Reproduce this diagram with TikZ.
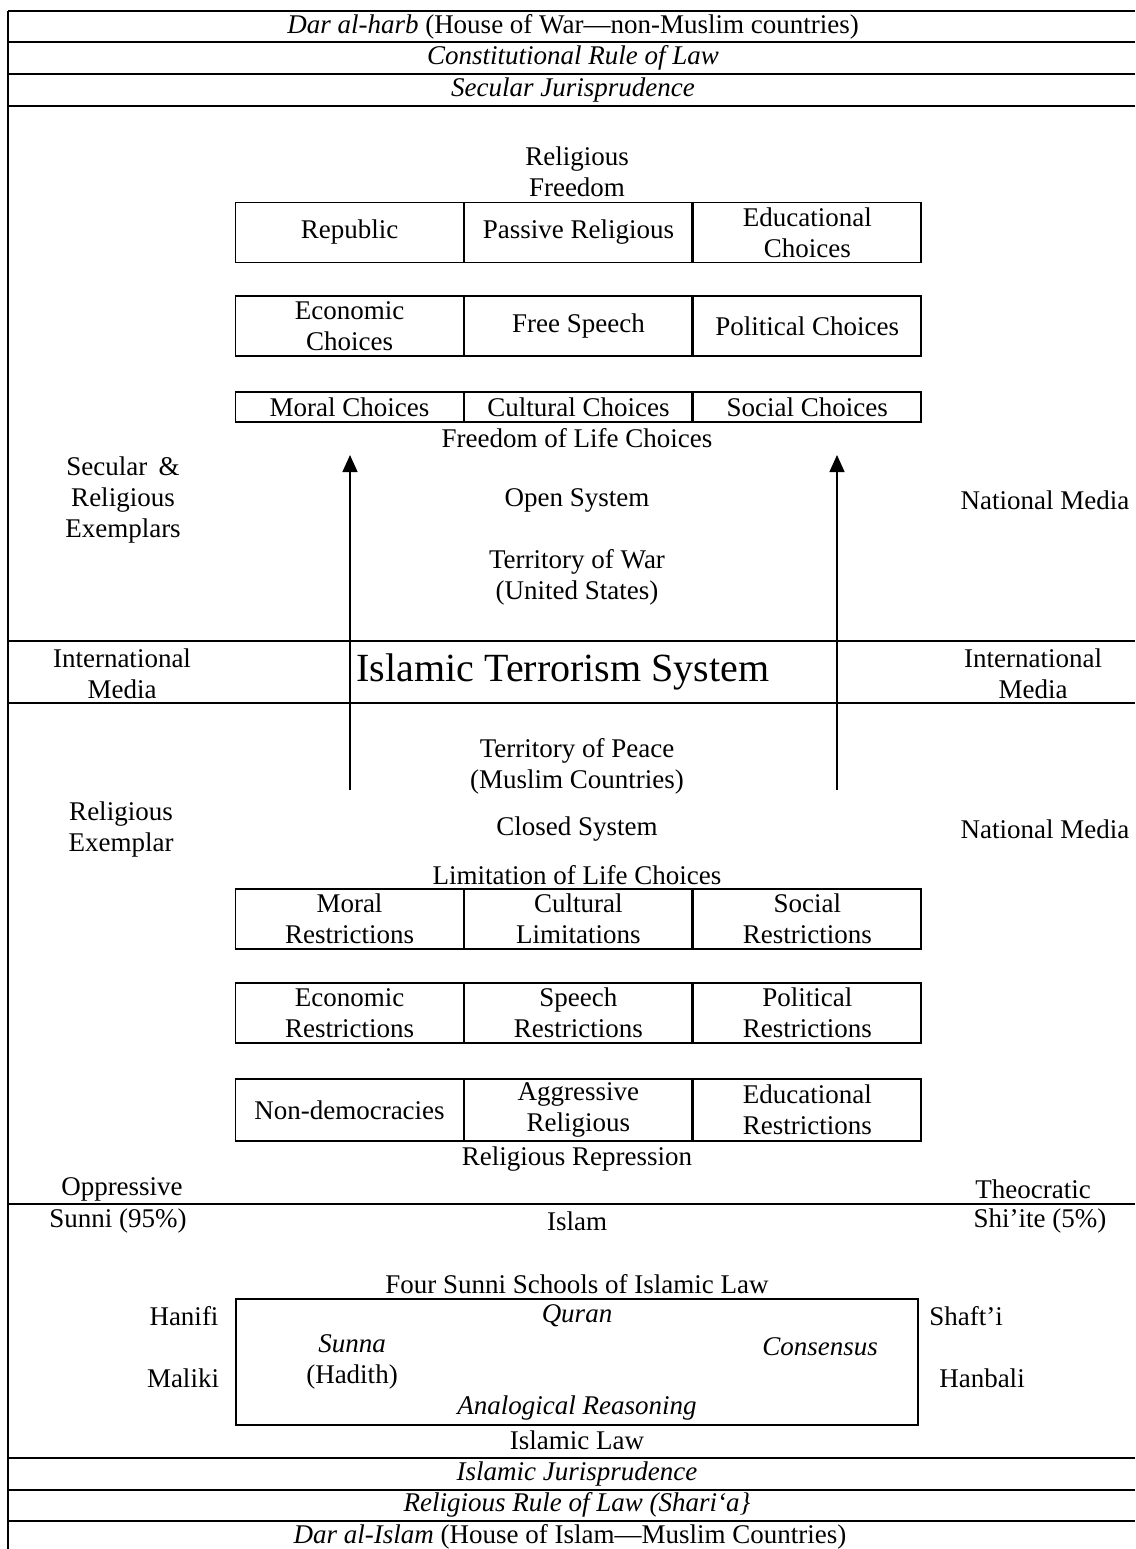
\documentclass[tikz,border=0pt]{standalone}
\usepackage{fontspec}
\setmainfont{Liberation Serif}
\usepackage{tikz}
\usetikzlibrary{positioning}
\usetikzlibrary{arrows.meta}

\newcommand{\txtsize}{\fontsize{27}{31}\selectfont}
\tikzset{
  rule/.style={line width=1.7pt},
  frame/.style={line width=1.5pt},
  cell/.style={draw,line width=1.4pt,minimum width=227.5pt,minimum height=60pt,
    inner sep=0pt,align=center,font=\txtsize},
  lbl/.style={align=center,inner sep=0pt,font=\txtsize},
  uparrow/.style={line width=1.3pt,-{Triangle[length=17pt,width=15pt]}}
}

\begin{document}
\begin{tikzpicture}[x=1pt,y=-1pt]
\useasboundingbox (0,0) rectangle (1135,1549);

% frame and bands
\draw[frame] (8,11) -- (8,1549);
\foreach \yy in {11,42,74,106,641,703,1204,1458,1490,1521}
  \draw[rule] (8,\yy) -- (1135,\yy);

% top bands
\node[lbl] (harb) at (573,27) {\textit{Dar al-harb} (House of War—non-Muslim countries)};
\node[lbl] (crol) at (573,58) {\textit{Constitutional Rule of Law}};
\node[lbl] (secj) at (573,90) {\textit{Secular Jurisprudence}};

% open system
\node[lbl] (relfree) at (577,172) {Religious\\Freedom};
\node[cell] (repub) at (349.5,232.5) {Republic};
\node[cell,right=0pt of repub] (passive) {Passive Religious};
\node[cell,right=0pt of passive] (educ) {Educational\\Choices};
\node[cell] (econ) at (349.5,326) {Economic\\Choices};
\node[cell,right=0pt of econ] (speech) {Free Speech};
\node[cell,right=0pt of speech] (polit) {Political Choices};
\node[cell,minimum height=30pt] (moral) at (349.5,407) {Moral Choices};
\node[cell,minimum height=30pt,right=0pt of moral] (cult) {Cultural Choices};
\node[cell,minimum height=30pt,right=0pt of cult] (social) {Social Choices};
\node[lbl] (lifefree) at (577,438) {Freedom of Life Choices};

\node[lbl] (secex) at (123,500) {Secular \,\&\\Religious\\Exemplars};
\node[lbl] (opensys) at (577,500) {Open System};
\node[lbl] (natmedA) at (1045,500) {National Media};
\node[lbl] (war) at (577,577) {Territory of War\\(United States)};

% central band
\node[lbl] (intmedL) at (122,674) {International\\Media};
\node[lbl,font=\fontsize{40}{44}\selectfont] (terror) at (563,672) {Islamic Terrorism System};
\node[lbl] (intmedR) at (1033,674) {International\\Media};

% closed system
\node[lbl] (peace) at (577,766) {Territory of Peace\\(Muslim Countries)};
\node[lbl] (relex) at (121,829) {Religious\\Exemplar};
\node[lbl] (closedsys) at (577,829) {Closed System};
\node[lbl] (natmedB) at (1045,829) {National Media};

\coordinate (startL) at (350,790);
\coordinate (startR) at (837,790);
\coordinate (endL) at (350,455);
\coordinate (endR) at (837,455);
\draw[uparrow] (startL) -- (endL);
\draw[uparrow] (startR) -- (endR);

\node[lbl] (limit) at (577,875) {Limitation of Life Choices};
\node[cell] (moralr) at (349.5,919) {Moral\\Restrictions};
\node[cell,right=0pt of moralr] (cultl) {Cultural\\Limitations};
\node[cell,right=0pt of cultl] (socialr) {Social\\Restrictions};
\node[cell] (econr) at (349.5,1013) {Economic\\Restrictions};
\node[cell,right=0pt of econr] (speechr) {Speech\\Restrictions};
\node[cell,right=0pt of speechr] (politr) {Political\\Restrictions};
\node[cell,minimum height=62pt] (nondem) at (349.5,1110) {Non-democracies};
\node[cell,minimum height=62pt,right=0pt of nondem] (aggr) {Aggressive\\Religious};
\node[cell,minimum height=62pt,right=0pt of aggr] (educr) {Educational\\Restrictions};
\node[lbl] (repress) at (577,1159) {Religious Repression};

\node[lbl] (oppr) at (122,1189) {Oppressive};
\node[lbl] (theo) at (1033,1189) {Theocratic};

% islam
\node[lbl] (sunni) at (118,1221) {Sunni (95\%)};
\node[lbl] (islam) at (577,1221) {Islam};
\node[lbl] (shiite) at (1040,1221) {Shi’ite (5\%)};

\node[lbl] (schools) at (577,1284) {Four Sunni Schools of Islamic Law};
\node[draw,line width=1.4pt,minimum width=682pt,minimum height=126pt,inner sep=0pt] (law) at (577,1362) {};
\node[lbl] (hanifi) at (184,1316) {Hanifi};
\node[lbl] (maliki) at (183,1378) {Maliki};
\node[lbl] (shafii) at (966,1316) {Shaft’i};
\node[lbl] (hanbali) at (982,1378) {Hanbali};
\node[lbl] (quran) at (577,1316) {\textit{Quran}};
\node[lbl] (sunna) at (352,1362) {\textit{Sunna}\\(Hadith)};
\node[lbl] (consens) at (820,1347) {\textit{Consensus}};
\node[lbl] (analog) at (577,1408) {\textit{Analogical Reasoning}};
\node[lbl] (islaw) at (577,1440) {Islamic Law};

% bottom bands
\node[lbl] (isjur) at (577,1474) {\textit{Islamic Jurisprudence}};
\node[lbl] (rrol) at (577,1505) {\textit{Religious Rule of Law (Shari‘a\}}};
\node[lbl] (darislam) at (570,1537) {\textit{Dar al-Islam} (House of Islam—Muslim Countries)};
\end{tikzpicture}
\end{document}
